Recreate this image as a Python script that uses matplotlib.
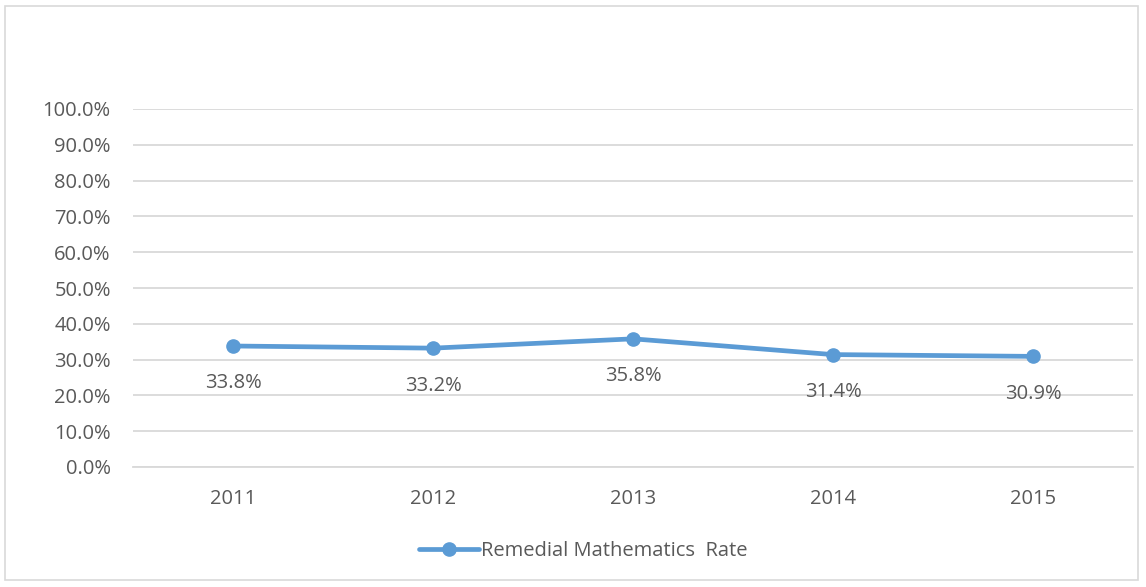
import matplotlib
matplotlib.use("Agg")
import matplotlib.pyplot as plt
from matplotlib.patches import Rectangle

years = ["2011", "2012", "2013", "2014", "2015"]
rates = [33.8, 33.2, 35.8, 31.4, 30.9]
yticks = [0, 10, 20, 30, 40, 50, 60, 70, 80, 90, 100]
series_name = "Remedial Mathematics  Rate"

plt.rcParams['font.family'] = ['Open Sans', 'DejaVu Sans']
txt = "#595959"
blue = "#5B9BD5"
fs = 14.5

fig = plt.figure(figsize=(11.46, 5.87), dpi=100)
fig.patches.append(Rectangle((5/1146, 7/587), 1133/1146, 574/587, transform=fig.transFigure,
                             fill=False, edgecolor="#D9D9D9", linewidth=1.2))
ax = fig.add_axes([133/1146, 1-467/587, 1000/1146, 358/587])
x = list(range(len(years)))
ax.plot(x, rates, color=blue, linewidth=3.4, marker='o', markersize=9.5,
        solid_capstyle='round', label=series_name, zorder=3)
for xi, v in zip(x, rates):
    ax.annotate(f"{v:.1f}%", (xi, v), xytext=(0, -27), textcoords='offset points',
                ha='center', va='center', fontsize=fs, color=txt)
ax.set_xlim(-0.5, len(years) - 0.5)
ax.set_ylim(0, 100)
ax.set_yticks(yticks)
ax.set_yticklabels([f"{t:.1f}%" for t in yticks], fontsize=fs, color=txt)
ax.set_xticks(x)
ax.set_xticklabels(years, fontsize=fs, color=txt)
ax.tick_params(axis='x', length=0, pad=16)
ax.tick_params(axis='y', length=0, pad=16)
ax.grid(axis='y', color="#D9D9D9", linewidth=1.3)
ax.set_axisbelow(True)
for s in ax.spines.values():
    s.set_visible(False)
ax.spines['bottom'].set_visible(True)
ax.spines['bottom'].set_color("#D9D9D9")
ax.spines['bottom'].set_linewidth(1.3)
leg = fig.legend(loc='center', bbox_to_anchor=(583/1146, 1-551/587), frameon=False,
                 fontsize=fs, handlelength=3.0, handletextpad=0.1)
for t in leg.get_texts():
    t.set_color(txt)
fig.savefig("out.png", dpi=100)
